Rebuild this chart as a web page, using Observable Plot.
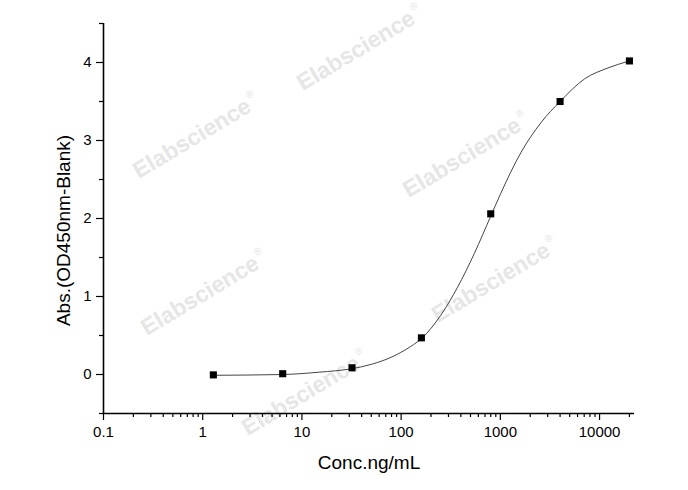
<!DOCTYPE html>
<html>
<head>
<meta charset="utf-8">
<script src="https://cdn.jsdelivr.net/npm/d3@7"></script>
<script src="https://cdn.jsdelivr.net/npm/@observablehq/plot@0.6"></script>
<style>
  html, body { margin: 0; padding: 0; background: #fff; }
  #wrap { position: relative; width: 688px; height: 490px; overflow: hidden; }
  .wm { position: absolute; font-family: "Liberation Sans", Arial, sans-serif; font-weight: bold;
        font-size: 23px; color: #e6e6e6; white-space: nowrap; transform: translate(-50%, -50%) rotate(-31deg); }
  .wm sup { font-size: 10px; font-weight: normal; vertical-align: 12px; margin-left: 2px; }
  #chart { position: absolute; left: 0; top: 0; }
</style>
</head>
<body>
<div id="wrap"></div>
<script>
// Standard points (5-fold dilution series)
const conc = [1.28, 6.4, 32, 160, 800, 4000, 20000];
const absorbance = [-0.005, 0.01, 0.086, 0.47, 2.06, 3.50, 4.02];

// Fitted curve
const fitConc = [1.28, 6.4, 15, 32, 50, 79, 125, 160, 251, 371, 546, 800, 1000, 1620, 2570, 4000, 7060, 12150, 20000];
const fitAbs  = [-0.01, 0.0, 0.03, 0.075, 0.13, 0.22, 0.36, 0.46, 0.76, 1.12, 1.55, 2.03, 2.31, 2.85, 3.23, 3.50, 3.79, 3.93, 4.02];

// Axes
const xDomain = [0.1, 22500];
const yDomain = [-0.5, 4.5];
const xMajor = [0.1, 1, 10, 100, 1000, 10000];
const xMajorLabels = ["0.1", "1", "10", "100", "1000", "10000"];
const xMinor = [0.2, 0.3, 0.4, 0.5, 0.6, 0.7, 0.8, 0.9,
                2, 3, 4, 5, 6, 7, 8, 9,
                20, 30, 40, 50, 60, 70, 80, 90,
                200, 300, 400, 500, 600, 700, 800, 900,
                2000, 3000, 4000, 5000, 6000, 7000, 8000, 9000,
                20000];
const yMajor = [0, 1, 2, 3, 4];
const yMajorLabels = ["0", "1", "2", "3", "4"];
const yMinor = [-0.5, 0.5, 1.5, 2.5, 3.5, 4.5];

const xLabel = "Conc.ng/mL";
const yLabel = "Abs.(OD450nm-Blank)";

const watermark = "Elabscience";
const watermarkSpots = [[196, 136], [360, 48], [466, 155], [204, 293], [495, 280], [305, 393]];

const points = conc.map((c, i) => ({c, a: absorbance[i]}));
const fit = fitConc.map((c, i) => ({c, a: fitAbs[i]}));
const xLab = new Map(xMajor.map((d, i) => [d, xMajorLabels[i]]));
const yLab = new Map(yMajor.map((d, i) => [d, yMajorLabels[i]]));

const wrap = document.getElementById("wrap");
for (const [x, y] of watermarkSpots) {
  const d = document.createElement("div");
  d.className = "wm";
  d.style.left = x + "px";
  d.style.top = y + "px";
  d.innerHTML = watermark + "<sup>®</sup>";
  wrap.appendChild(d);
}

const chart = Plot.plot({
  width: 688,
  height: 490,
  marginLeft: 103,
  marginRight: 54,
  marginTop: 23,
  marginBottom: 77,
  style: {fontFamily: "'Liberation Sans', Arial, sans-serif", fontSize: "15px", color: "#000", background: "transparent"},
  x: {type: "log", domain: xDomain},
  y: {domain: yDomain},
  marks: [
    Plot.axisX(xMinor, {tickSize: 4, text: null, strokeWidth: 1.2, label: null}),
    Plot.axisX(xMajor, {tickSize: 7, tickPadding: 6, strokeWidth: 1.2, tickFormat: d => xLab.get(d), label: null}),
    Plot.axisY(yMinor, {tickSize: 4, text: null, strokeWidth: 1.2, label: null}),
    Plot.axisY(yMajor, {tickSize: 7, tickPadding: 5, strokeWidth: 1.2, tickFormat: d => yLab.get(d), label: null}),
    Plot.ruleX([xDomain[0]], {stroke: "#000", strokeWidth: 1.6}),
    Plot.ruleY([yDomain[0]], {stroke: "#000", strokeWidth: 1.6}),
    Plot.line(fit, {x: "c", y: "a", curve: "monotone-x", stroke: "#444", strokeWidth: 1}),
    Plot.dot(points, {x: "c", y: "a", symbol: "square", r: 4, fill: "#000", stroke: "none"}),
    Plot.text([xLabel], {text: d => d, frameAnchor: "bottom", textAnchor: "middle", lineAnchor: "middle", dy: 49, fontSize: 19}),
    Plot.text([yLabel], {text: d => d, frameAnchor: "left", textAnchor: "middle", lineAnchor: "middle", dx: -40, dy: 12, rotate: -90, fontSize: 19})
  ]
});
chart.id = "chart";
wrap.appendChild(chart);
</script>
</body>
</html>
